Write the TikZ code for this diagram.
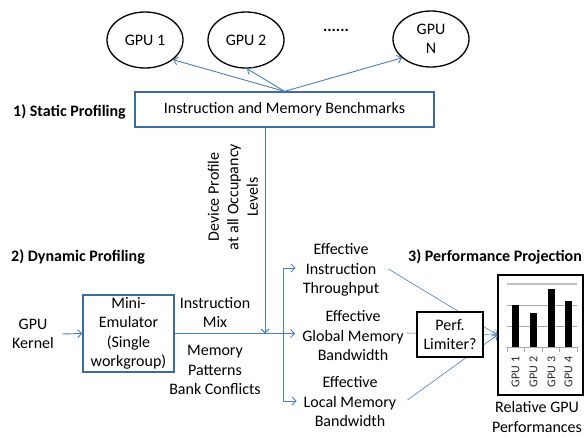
\documentclass[tikz,border=0pt]{standalone}
\usepackage{fontspec}
\setmainfont{Carlito}
\usetikzlibrary{shapes.geometric,arrows.meta,calc}
\definecolor{lineblue}{HTML}{4A7EBB}
\definecolor{boxblue}{HTML}{3D6AA2}
\definecolor{gridgray}{HTML}{A6A6A6}
\definecolor{lightgrid}{HTML}{BFBFBF}
\begin{document}
\begin{tikzpicture}[x=1pt,y=-1pt,
  txt/.style={font=\fontsize{16}{19.5}\selectfont, align=center, inner sep=0pt},
  head/.style={font=\fontsize{16}{19.5}\selectfont\bfseries, inner sep=0pt, anchor=west},
  gpu/.style={ellipse, draw=black, line width=1.3pt, minimum width=76pt, minimum height=56pt,
    inner sep=0pt, font=\fontsize{16}{19.5}\selectfont, align=center},
  conn/.style={draw=lineblue, line width=0.9pt, -{Straight Barb[length=4pt,width=8pt]}},
  plainconn/.style={draw=lineblue, line width=0.9pt},
  bluebox/.style={draw=boxblue, line width=1.3pt, inner sep=0pt},
  ticklabel/.style={font=\fontsize{12}{14}\selectfont, inner sep=0pt, rotate=90, text=black!85},
]
\useasboundingbox (0,0) rectangle (584,437);

% GPUs
\node[gpu] (g1) at (145,40) {GPU 1};
\node[gpu] (g2) at (246,40) {GPU 2};
\node[font=\fontsize{16}{19.5}\selectfont\bfseries, inner sep=0pt] (dots) at (336,30) {......};
\node[gpu] (gn) at (431,39) {GPU\\N};

% static profiling
\node[head] (h1) at (13,112) {1) Static Profiling};
\node[bluebox, txt, minimum width=299pt, minimum height=35pt] (bench) at (284.5,109.5) {Instruction and Memory Benchmarks};

\draw[conn] (bench.north) -- (g1.-35);
\draw[conn] (bench.north) -- (g2.-88);
\draw[conn] (bench.north) -- (gn.213);

% device profile
\node[txt, rotate=90] (dev) at (233,197) {Device Profile\\at all Occupancy\\Levels};

% dynamic profiling
\node[head] (h2) at (11,257) {2) Dynamic Profiling};
\node[txt] (gk) at (33,334) {GPU\\Kernel};
\node[bluebox, txt, minimum width=91pt, minimum height=77pt] (emu) at (128.5,333.5)
  {Mini-\\Emulator\\(Single\\workgroup)};
\node[txt] (imix) at (215,312.5) {Instruction\\Mix};
\node[txt] (mpat) at (215,370) {Memory\\Patterns\\Bank Conflicts};

\coordinate (split) at (283,333.5);
\coordinate (dbot) at (265,333.5);
\coordinate (btop) at (283,268);
\coordinate (bbot) at (283,401);

\draw[conn] ([xshift=8pt]gk.east) -- (emu.west);
\draw[plainconn] (emu.east) -- (split);
\draw[conn] (bench.south -| dbot) -- (dbot);
\draw[plainconn] (btop) -- (bbot);

% effective quantities
\node[txt] (ei) at (341,270) {Effective\\Instruction\\Throughput};
\node[txt] (eg) at (353,336) {Effective\\Global Memory\\Bandwidth};
\node[txt] (el) at (350,402) {Effective\\Local Memory\\Bandwidth};

\draw[conn] (btop) -- ([xshift=-7pt]btop -| ei.west);
\draw[conn] (split) -- ([xshift=-7pt]split -| eg.west);
\draw[conn] (bbot) -- ([xshift=-7pt]bbot -| el.west);

% performance projection
\node[head] (h3) at (408,257) {3) Performance Projection};
\node[draw=black, line width=1.3pt, minimum width=85pt, minimum height=120pt, inner sep=0pt] (chart) at (540.5,335) {};

\draw[conn, line width=0.6pt] ([xshift=9pt, yshift=1pt]ei.east) -- (chart.west);
\draw[conn, line width=0.6pt] ([xshift=3pt, yshift=3pt]eg.east) -- (chart.west);
\draw[conn, line width=0.6pt] ([xshift=11pt, yshift=2pt]el.east) -- (chart.west);

\node[draw=black, line width=1.3pt, fill=white, txt, minimum width=66pt, minimum height=45pt] (perf) at (450,334.5) {Perf.\\Limiter?};

% chart contents
\draw[lightgrid, line width=1.2pt] (507,284) -- (577,284);
\draw[gridgray, line width=0.9pt] (507,305) -- (577,305);
\draw[gridgray, line width=0.9pt] (507,326) -- (577,326);
\fill[black] (512,305) rectangle (519,347);
\fill[black] (530,313) rectangle (537,347);
\fill[black] (548,289) rectangle (555,347);
\fill[black] (565,301) rectangle (572,347);
\draw[gridgray, line width=0.9pt] (507,347) -- (577,347);
\foreach \tx in {507,524.5,542,559.5,577}{
  \draw[gridgray, line width=0.9pt] (\tx,347) -- (\tx,352);
}
\node[ticklabel] (t1) at (515.5,372) {GPU 1};
\node[ticklabel] (t2) at (533.5,372) {GPU 2};
\node[ticklabel] (t3) at (551.5,372) {GPU 3};
\node[ticklabel] (t4) at (568.5,372) {GPU 4};

\node[txt] (rel) at (537,417) {Relative GPU\\Performances};
\end{tikzpicture}
\end{document}
